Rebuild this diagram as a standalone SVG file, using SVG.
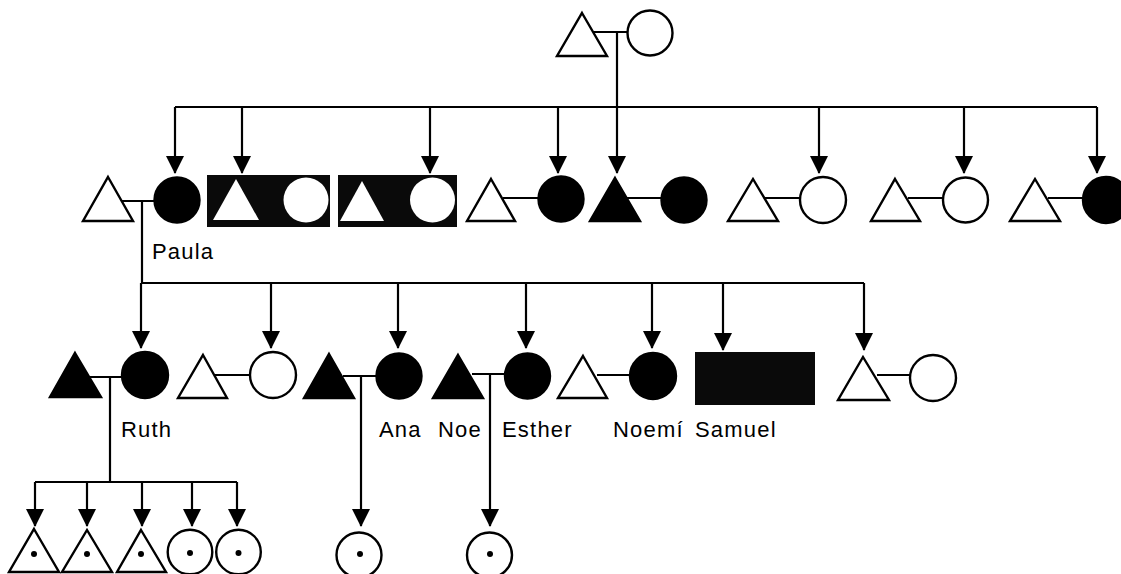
<svg xmlns="http://www.w3.org/2000/svg" width="1121" height="574" viewBox="0 0 1121 574">
<style>
.ln{stroke:#000;stroke-width:2.2;fill:none}
.ar{stroke:#000;stroke-width:2.2;fill:none;marker-end:url(#ah)}
.o{fill:#fff;stroke:#000;stroke-width:2.4}
.f{fill:#000;stroke:#000;stroke-width:2.4}
.w{fill:#fff;stroke:none}
.blk{fill:#0a0a0a}
.dot{fill:#000}
text{font-family:"Liberation Sans",Arial,sans-serif;font-size:22px;letter-spacing:1.2px;fill:#000}
</style>
<defs>
<marker id="ah" viewBox="0 0 18 18" refX="17" refY="9" markerWidth="18" markerHeight="18" markerUnits="userSpaceOnUse" orient="auto">
<path d="M0,0 L18,9 L0,18 z" fill="#000"/>
</marker>
</defs>
<rect width="1121" height="574" fill="#fff"/>

<g id="connectors">
<!-- top couple -->
<line class="ln" x1="593" y1="32" x2="628" y2="32"/>
<line class="ar" x1="617" y1="32" x2="617" y2="173"/>
<line class="ln" x1="175" y1="107" x2="1097" y2="107"/>
<line class="ar" x1="175" y1="107" x2="175" y2="173"/>
<line class="ar" x1="242" y1="107" x2="242" y2="173"/>
<line class="ar" x1="430" y1="107" x2="430" y2="173"/>
<line class="ar" x1="558" y1="107" x2="558" y2="173"/>
<line class="ar" x1="819" y1="107" x2="819" y2="173"/>
<line class="ar" x1="964" y1="107" x2="964" y2="173"/>
<line class="ar" x1="1097" y1="107" x2="1097" y2="173"/>
<!-- row 1 couple lines -->
<line class="ln" x1="121" y1="201" x2="154" y2="201"/>
<line class="ln" x1="503" y1="198" x2="539" y2="198"/>
<line class="ln" x1="627" y1="198" x2="662" y2="198"/>
<line class="ln" x1="765" y1="198" x2="800" y2="198"/>
<line class="ln" x1="908" y1="198" x2="943" y2="198"/>
<line class="ln" x1="1048" y1="198" x2="1083" y2="198"/>
<!-- Paula descent -->
<line class="ln" x1="142" y1="201" x2="142" y2="283"/>
<line class="ln" x1="141" y1="283" x2="864" y2="283"/>
<line class="ar" x1="141" y1="283" x2="141" y2="348"/>
<line class="ar" x1="271" y1="283" x2="271" y2="348"/>
<line class="ar" x1="398" y1="283" x2="398" y2="348"/>
<line class="ar" x1="526" y1="283" x2="526" y2="348"/>
<line class="ar" x1="652" y1="283" x2="652" y2="348"/>
<line class="ar" x1="723" y1="283" x2="723" y2="350"/>
<line class="ar" x1="864" y1="283" x2="864" y2="350"/>
<!-- row 2 couple lines -->
<line class="ln" x1="90" y1="377" x2="123" y2="377"/>
<line class="ln" x1="215" y1="375" x2="250" y2="375"/>
<line class="ln" x1="343" y1="376" x2="377" y2="376"/>
<line class="ln" x1="472" y1="374" x2="505" y2="374"/>
<line class="ln" x1="597" y1="375" x2="630" y2="375"/>
<line class="ln" x1="877" y1="375" x2="910" y2="375"/>
<!-- Ruth descent -->
<line class="ln" x1="110" y1="377" x2="110" y2="482"/>
<line class="ln" x1="35" y1="482" x2="237" y2="482"/>
<line class="ar" x1="35" y1="482" x2="35" y2="526"/>
<line class="ar" x1="87" y1="482" x2="87" y2="526"/>
<line class="ar" x1="142" y1="482" x2="142" y2="526"/>
<line class="ar" x1="192" y1="482" x2="192" y2="526"/>
<line class="ar" x1="237" y1="482" x2="237" y2="526"/>
<!-- Ana descent -->
<line class="ar" x1="361" y1="376" x2="361" y2="526"/>
<!-- Noe descent -->
<line class="ar" x1="490" y1="374" x2="490" y2="526"/>
</g>

<!-- generation 0 -->
<g id="g0-father"><polygon class="o" points="582,13 607,56 557,56"/></g>
<g id="g0-mother"><circle class="o" cx="650" cy="33" r="22.5"/></g>

<!-- generation 1 -->
<g id="g1-paula-husband"><polygon class="o" points="108,177 133,221 83,221"/></g>
<g id="g1-paula"><circle class="f" cx="177" cy="200" r="22.5"/><text x="152" y="259">Paula</text></g>
<g id="g1-couple2">
<rect class="blk" x="207" y="175" width="123" height="52"/>
<polygon class="w" points="236,179 259,220 213,220"/>
<circle class="w" cx="306" cy="200" r="22.5"/>
</g>
<g id="g1-couple3">
<rect class="blk" x="338" y="175" width="119" height="52"/>
<polygon class="w" points="362,181 384,221 340,221"/>
<circle class="w" cx="432.5" cy="200" r="22.5"/>
</g>
<g id="g1-couple4-m"><polygon class="o" points="491,179 515,221 467,221"/></g>
<g id="g1-couple4-f"><circle class="f" cx="561" cy="199" r="22.5"/></g>
<g id="g1-couple5-m"><polygon class="f" points="615,178 640,221 590,221"/></g>
<g id="g1-couple5-f"><circle class="f" cx="684" cy="200" r="22.5"/></g>
<g id="g1-couple6-m"><polygon class="o" points="753,179 778,221 728,221"/></g>
<g id="g1-couple6-f"><circle class="o" cx="823" cy="200" r="23"/></g>
<g id="g1-couple7-m"><polygon class="o" points="895,179 920,221 871,221"/></g>
<g id="g1-couple7-f"><circle class="o" cx="965.5" cy="200" r="22.5"/></g>
<g id="g1-couple8-m"><polygon class="o" points="1035,179 1060,221 1010,221"/></g>
<g id="g1-couple8-f"><circle class="f" cx="1106" cy="200" r="23"/></g>

<!-- generation 2 -->
<g id="g2-ruth-husband"><polygon class="f" points="75,353 101,397 50,397"/></g>
<g id="g2-ruth"><circle class="f" cx="145" cy="375" r="23"/><text x="121" y="437">Ruth</text></g>
<g id="g2-couple2-m"><polygon class="o" points="203,355 227,398 178,398"/></g>
<g id="g2-couple2-f"><circle class="o" cx="273" cy="375" r="23"/></g>
<g id="g2-ana-husband"><polygon class="f" points="329,354 354,398 304,398"/></g>
<g id="g2-ana"><circle class="f" cx="399" cy="376" r="22.5"/><text x="379" y="437">Ana</text></g>
<g id="g2-noe"><polygon class="f" points="458,355 483,398 433,398"/><text x="438" y="437">Noe</text></g>
<g id="g2-esther"><circle class="f" cx="527.5" cy="376" r="22.5"/><text x="502" y="437">Esther</text></g>
<g id="g2-noemi-husband"><polygon class="o" points="583,356 607,398 558,398"/></g>
<g id="g2-noemi"><circle class="f" cx="653" cy="376" r="23"/><text x="613" y="437">Noemí</text></g>
<g id="g2-samuel"><rect class="blk" x="695" y="352" width="120" height="53"/><text x="695" y="437">Samuel</text></g>
<g id="g2-couple-last-m"><polygon class="o" points="863,357 889,400 838,400"/></g>
<g id="g2-couple-last-f"><circle class="o" cx="933" cy="378" r="23"/></g>

<!-- generation 3 -->
<g id="g3-ruth-c1"><polygon class="o" points="34,529 59,572 9,572"/><circle class="dot" cx="34" cy="554" r="3"/></g>
<g id="g3-ruth-c2"><polygon class="o" points="87,530 112,572 62,572"/><circle class="dot" cx="87" cy="554" r="3"/></g>
<g id="g3-ruth-c3"><polygon class="o" points="141,530 166,572 117,572"/><circle class="dot" cx="141" cy="554" r="3"/></g>
<g id="g3-ruth-c4"><circle class="o" cx="190" cy="552" r="22.3"/><circle class="dot" cx="190" cy="553" r="3"/></g>
<g id="g3-ruth-c5"><circle class="o" cx="238.5" cy="552" r="22.3"/><circle class="dot" cx="238.5" cy="553" r="3"/></g>
<g id="g3-ana-c1"><circle class="o" cx="359" cy="555" r="22.5"/><circle class="dot" cx="360" cy="554" r="3"/></g>
<g id="g3-noe-c1"><circle class="o" cx="489.5" cy="555" r="22.5"/><circle class="dot" cx="490" cy="554" r="3"/></g>
</svg>
